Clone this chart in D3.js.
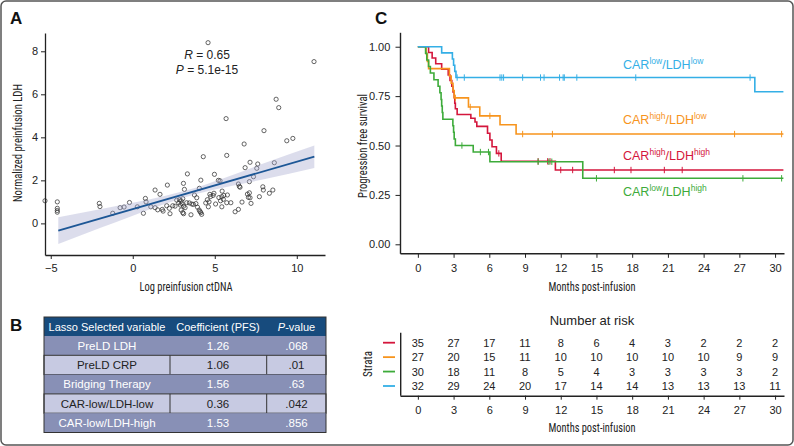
<!DOCTYPE html>
<html><head><meta charset="utf-8">
<script src="https://cdn.jsdelivr.net/npm/d3@7"></script>
<style>
body{margin:0;background:#fff}
svg{display:block}
text{font-family:"Liberation Sans",Arial,Helvetica,sans-serif}
.cond{font-family:"Liberation Sans Narrow","Arial Narrow","Roboto Condensed","Liberation Sans",sans-serif}
</style>
</head><body><svg width="794" height="446"></svg>
<script>
// ---------------- Panel A data ----------------
const scatterX = [-5.35,-4.6,-4.6,-4.6,-4.6,-2.04,-2.0,-1.22,-0.77,-0.53,-0.2,0.28,0.65,0.77,0.81,1.1,
  1.36,1.36,1.52,1.66,1.8,1.85,2.07,2.11,2.27,2.23,2.44,2.58,2.68,2.8,2.85,2.9,2.95,3.0,3.05,3.1,
  2.95,3.05,3.1,3.09,3.15,3.19,3.33,3.29,3.45,3.6,3.7,3.85,3.95,4.05,4.1,4.15,3.55,3.76,3.9,4.15,4.2,4.06,
  4.3,4.45,4.55,4.65,4.75,4.7,4.9,4.95,5.05,5.25,5.35,5.45,5.55,4.61,4.98,5.22,4.59,11.05,
  5.69,8.74,8.9,8.0,6.79,9.39,9.76,5.73,7.15,7.62,6.85,8.63,7.56,7.36,7.11,5.32,6.44,6.5,6.54,
  7.93,7.96,8.54,8.33,6.99,7.11,7.15,7.05,7.72,5.43,5.52,5.77,5.73,5.98,6.66,7.21,5.43,6.24,6.44];
const scatterY = [1.05,1.0,0.7,0.6,0.52,0.93,0.78,0.47,0.73,0.76,0.97,0.77,0.47,1.16,1.0,0.77,
  1.55,0.73,0.63,1.35,0.65,0.57,0.82,1.78,0.45,0.70,0.82,0.80,1.08,0.95,1.1,0.85,1.05,0.92,1.15,0.8,
  0.62,0.5,0.45,1.86,1.58,0.73,2.30,0.96,0.95,0.9,0.88,0.92,0.75,0.62,0.55,0.5,0.40,1.32,1.19,2.01,0.42,1.63,
  3.1,0.95,1.1,1.0,1.25,1.35,1.3,1.4,0.9,1.2,1.05,1.5,1.3,0.77,2.28,2.0,8.4,7.52,
  4.87,5.77,5.38,4.31,3.69,3.84,3.95,3.16,2.84,2.76,2.59,2.82,2.56,2.17,1.94,1.98,1.83,1.72,1.68,
  1.70,1.55,1.55,1.40,1.36,1.42,1.19,1.21,1.24,1.24,1.12,1.32,0.96,0.96,0.99,0.93,0.77,0.54,0.65];
const fitX = [-4.54, 11.07];
const fitY = [-0.34, 3.10];
const ciX    = [-4.54, -2,   0,    2,    4,     6,    8,    11.07];
const ciLow  = [-0.96, -0.22, 0.36, 0.91, 1.385, 1.74, 2.05, 2.58];
const ciHigh = [ 0.28,  0.66, 0.96, 1.29, 1.695, 2.22, 2.79, 3.62];
const scatterXTicks = [-5, 0, 5, 10];
const scatterYTicks = [0, 2, 4, 6, 8];
const statR = "0.65", statP = "5.1e-15";

// ---------------- Panel B data ----------------
const tableHeader = ["Lasso Selected variable", "Coefficient (PFS)", "P-value"];
const tableVars = ["PreLD LDH", "PreLD CRP", "Bridging Therapy", "CAR-low/LDH-low", "CAR-low/LDH-high"];
const tableCoef = ["1.26", "1.06", "1.56", "0.36", "1.53"];
const tablePval = [".068", ".01", ".63", ".042", ".856"];

// ---------------- Panel C data ----------------
const kmGroups = ["highhigh", "highlow", "lowhigh", "lowlow"];
const kmCar = ["high", "high", "low", "low"];
const kmLdh = ["high", "low", "high", "low"];
const kmColors = ["#d4163c", "#f7941d", "#3dab3a", "#34afe6"];
const redSteps = [[0,1],[0.9,0.971],[1.2,0.943],[1.5,0.914],[2.0,0.886],[2.55,0.857],[2.7,0.829],[2.85,0.8],[2.95,0.771],
  [3.05,0.743],[3.1,0.714],[3.15,0.686],[3.3,0.657],[4.45,0.638],[4.8,0.619],[4.95,0.597],[5.85,0.562],[6.05,0.528],
  [6.23,0.494],[6.6,0.46],[7.0,0.42],[11.55,0.376]];
const orangeSteps = [[0,1],[0.7,0.963],[0.8,0.926],[0.9,0.889],[2.65,0.852],[2.8,0.815],[2.95,0.778],[3.05,0.741],
  [4.25,0.695],[5.2,0.65],[6.9,0.605],[8.25,0.558]];
const greenSteps = [[0,1],[0.65,0.967],[0.75,0.933],[0.9,0.9],[1.05,0.867],[1.35,0.833],[1.7,0.8],[1.85,0.767],
  [1.95,0.733],[2.0,0.7],[2.05,0.667],[2.1,0.633],[2.94,0.6],[3.0,0.567],[3.05,0.533],[3.15,0.5],[4.65,0.467],
  [6.05,0.418],[13.85,0.334]];
const blueSteps = [[0,1],[2.0,0.969],[2.9,0.938],[3.0,0.906],[3.1,0.875],[3.2,0.844],[28.3,0.772]];
const kmSteps = [redSteps, orangeSteps, greenSteps, blueSteps];
const kmEnd = [30.7, 30.7, 30.7, 30.7];
const redCensor = [6.8,10.1,10.9,11.1,12.0,13.0,16.5,17.9,20.7,22.2];
const orangeCensor = [3.15,4.4,6.05,8.8,11.3,26.6,30.55];
const greenCensor = [3.7,5.25,5.93,10.1,11.0,11.25,15.0,27.3,30.55];
const blueCensor = [3.3,3.9,6.9,7.05,7.2,8.8,10.3,10.6,11.9,12.2,12.3,13.35,18.3,27.9];
const kmCensor = [redCensor, orangeCensor, greenCensor, blueCensor];
const kmTicksX = [0,3,6,9,12,15,18,21,24,27,30];
const kmTicksY = [0, 0.25, 0.5, 0.75, 1];
const riskRed    = [35,27,17,11,8,6,4,3,2,2,2];
const riskOrange = [27,20,15,11,10,10,10,10,10,9,9];
const riskGreen  = [30,18,11,8,5,4,3,3,3,3,2];
const riskBlue   = [32,29,24,20,17,14,14,13,13,13,11];
const riskRows = [riskRed, riskOrange, riskGreen, riskBlue];

const svg = d3.select("svg");
const ink = "#222";

// condensed axis title helper (no condensed font installed -> squeeze regular face)
function condText(g, txt, len, transform){
  return g.append("text").attr("class","cond").attr("transform",transform)
    .attr("text-anchor","middle").attr("font-size",13).attr("fill",ink)
    .attr("textLength",len).attr("lengthAdjust","spacingAndGlyphs").text(txt);
}

// frame
svg.append("rect").attr("x",1).attr("y",1).attr("width",792).attr("height",444)
  .attr("rx",5).attr("fill","none").attr("stroke","#555").attr("stroke-width",1.5);

// panel letters
[["A",10,24],["B",10,331],["C",375,24]].forEach(([t,x,y])=>{
  svg.append("text").attr("x",x).attr("y",y).attr("font-size",17).attr("font-weight","bold")
    .attr("fill","#111").text(t);
});

// ================= Panel A =================
const xA = d3.scaleLinear().domain([-5.35, 11.72]).range([45, 325]);
const yA = d3.scaleLinear().domain([-1.47, 8.85]).range([255, 33]);
const gA = svg.append("g");

gA.append("g").selectAll("circle").data(scatterX).join("circle")
  .attr("cx",(d)=>xA(d)).attr("cy",(d,i)=>yA(scatterY[i])).attr("r",2.1)
  .attr("fill","none").attr("stroke","#333").attr("stroke-width",0.75);

const ciData = ciX.map((x,i)=>({x, lo:ciLow[i], hi:ciHigh[i]}));
gA.append("path").datum(ciData)
  .attr("d", d3.area().x(d=>xA(d.x)).y0(d=>yA(d.lo)).y1(d=>yA(d.hi)).curve(d3.curveMonotoneX))
  .attr("fill","#a3a6cc").attr("fill-opacity",0.38);
gA.append("path").datum(fitX.map((x,i)=>[x,fitY[i]]))
  .attr("d", d3.line().x(d=>xA(d[0])).y(d=>yA(d[1])))
  .attr("stroke","#1d5796").attr("stroke-width",1.8).attr("fill","none");

const axA_x = gA.append("g").attr("transform","translate(0,255)")
  .call(d3.axisBottom(xA).tickValues(scatterXTicks).tickSize(4).tickSizeOuter(0).tickFormat(d=>d<0?"\u2212"+Math.abs(d):d));
const axA_y = gA.append("g").attr("transform","translate(45,0)")
  .call(d3.axisLeft(yA).tickValues(scatterYTicks).tickSize(4).tickSizeOuter(0));
[axA_x, axA_y].forEach(a=>{
  a.select(".domain").attr("stroke",ink).attr("stroke-width",1.3);
  a.selectAll(".tick line").attr("stroke",ink).attr("stroke-width",1);
  a.selectAll(".tick text").attr("font-size",11).attr("fill",ink).attr("font-family","Liberation Sans, Arial, sans-serif");
});
axA_x.selectAll(".tick text").attr("dy","0.95em");

condText(gA, "Log preinfusion ctDNA", 93, "translate(186,291)");
condText(gA, "Normalized preinfusion LDH", 118, "translate(22,143) rotate(-90)");

const rT = gA.append("text").attr("x",207).attr("y",59).attr("text-anchor","middle").attr("font-size",12).attr("fill",ink);
rT.append("tspan").attr("font-style","italic").text("R");
rT.append("tspan").text(" = " + statR);
const pT = gA.append("text").attr("x",207).attr("y",74).attr("text-anchor","middle").attr("font-size",12).attr("fill",ink);
pT.append("tspan").attr("font-style","italic").text("P");
pT.append("tspan").text(" = " + statP);

// ================= Panel B =================
const colX = [44, 170, 266.7, 326];
const hdrTop = 317, hdrH = 19, rowH = 19.3;
const gB = svg.append("g");
gB.append("rect").attr("x",colX[0]).attr("y",hdrTop).attr("width",colX[3]-colX[0]).attr("height",hdrH).attr("fill","#174b7d");
const hdrCx = [107, 218, 296.5];
tableHeader.forEach((h,i)=>{
  const t = gB.append("text").attr("x",hdrCx[i]).attr("y",hdrTop+hdrH/2+4).attr("text-anchor","middle")
    .attr("font-size",11).attr("fill","#fff");
  if (h.startsWith("P-")) { t.append("tspan").attr("font-style","italic").text("P"); t.append("tspan").text(h.slice(1)); }
  else t.text(h);
});
tableVars.forEach((v,i)=>{
  const y0 = hdrTop + hdrH + i*rowH;
  const dark = i%2===0;
  gB.append("rect").attr("x",colX[0]).attr("y",y0).attr("width",colX[3]-colX[0]).attr("height",rowH)
    .attr("fill", dark ? "#8890b6" : "#c7cae2");
  if (!dark) {
    gB.append("rect").attr("x",colX[0]).attr("y",y0).attr("width",colX[3]-colX[0]).attr("height",rowH)
      .attr("fill","none").attr("stroke","#333").attr("stroke-width",1);
    [colX[1], colX[2]].forEach(x=>gB.append("line").attr("x1",x).attr("x2",x).attr("y1",y0).attr("y2",y0+rowH)
      .attr("stroke","#333").attr("stroke-width",1));
  }
  const vals = [v, tableCoef[i], tablePval[i]];
  vals.forEach((s,j)=>{
    gB.append("text").attr("x",hdrCx[j]).attr("y",y0+rowH/2+4.2).attr("text-anchor","middle")
      .attr("font-size",11.5).attr("fill", dark ? "#fff" : "#222").text(s);
  });
});
gB.append("rect").attr("x",colX[0]).attr("y",hdrTop).attr("width",colX[3]-colX[0])
  .attr("height",hdrH + rowH*tableVars.length).attr("fill","none").attr("stroke","#333").attr("stroke-width",1);

// ================= Panel C =================
const xC = d3.scaleLinear().domain([-1.5, 30.75]).range([400, 784]);
const yC = d3.scaleLinear().domain([-0.0455, 1.073]).range([253.3, 32.3]);
const gC = svg.append("g");

const stepLine = d3.line().x(d=>xC(d[0])).y(d=>yC(d[1])).curve(d3.curveStepAfter);
function survAt(steps, t){ let s = 1; for (const [tt,ss] of steps) { if (tt <= t) s = ss; } return s; }

kmSteps.forEach((steps,i)=>{
  const pts = steps.concat([[kmEnd[i], steps[steps.length-1][1]]]);
  gC.append("path").datum(pts).attr("d",stepLine).attr("fill","none")
    .attr("stroke",kmColors[i]).attr("stroke-width",1.6);
  gC.append("g").selectAll("line").data(kmCensor[i]).join("line")
    .attr("x1",d=>xC(d)).attr("x2",d=>xC(d))
    .attr("y1",d=>yC(survAt(steps,d))-3.2).attr("y2",d=>yC(survAt(steps,d))+3.2)
    .attr("stroke",kmColors[i]).attr("stroke-width",1);
});

const axC_x = gC.append("g").attr("transform","translate(0,253.3)")
  .call(d3.axisBottom(xC).tickValues(kmTicksX).tickSize(4.5).tickSizeOuter(0));
const axC_y = gC.append("g").attr("transform","translate(400,0)")
  .call(d3.axisLeft(yC).tickValues(kmTicksY).tickSize(4.5).tickSizeOuter(0).tickFormat(d3.format(".2f")));
[axC_x, axC_y].forEach(a=>{
  a.select(".domain").attr("stroke",ink).attr("stroke-width",1.4);
  a.selectAll(".tick line").attr("stroke",ink).attr("stroke-width",1);
  a.selectAll(".tick text").attr("font-size",11).attr("fill",ink).attr("font-family","Liberation Sans, Arial, sans-serif");
});
axC_x.selectAll(".tick text").attr("dy","1.05em");
axC_y.selectAll(".tick text").attr("dx","-0.2em");

condText(gC, "Months post-infusion", 87, "translate(592,291)");
condText(gC, "Progression free survival", 104, "translate(367,146) rotate(-90)");

// curve labels
const labelBase = [160, 124, 196, 69];
kmGroups.forEach((g,i)=>{
  const t = gC.append("text").attr("x",623).attr("y",labelBase[i]).attr("font-size",12.5).attr("fill",kmColors[i]);
  t.append("tspan").text("CAR");
  t.append("tspan").attr("font-size",8.5).attr("dy",-5).text(kmCar[i]);
  t.append("tspan").attr("dy",5).text("/LDH");
  t.append("tspan").attr("font-size",8.5).attr("dy",-5).text(kmLdh[i]);
});

// ---------- risk table ----------
const yR = d3.scalePoint().domain(kmGroups).range([342.7, 386]);
const gR = svg.append("g");
gR.append("text").attr("x",592).attr("y",325).attr("text-anchor","middle").attr("font-size",13).attr("fill",ink).text("Number at risk");
riskRows.forEach((row,i)=>{
  gR.append("g").selectAll("text").data(row).join("text")
    .attr("x",(d,j)=>xC(kmTicksX[j])).attr("y",yR(kmGroups[i])+4).attr("text-anchor","middle")
    .attr("font-size",11).attr("fill",ink).text(d=>d);
  gR.append("line").attr("x1",383).attr("x2",395).attr("y1",yR(kmGroups[i])).attr("y2",yR(kmGroups[i]))
    .attr("stroke",kmColors[i]).attr("stroke-width",1.8);
});
const axR = gR.append("g").attr("transform","translate(0,395.7)")
  .call(d3.axisBottom(xC).tickValues(kmTicksX).tickSize(4).tickSizeOuter(0));
axR.select(".domain").attr("stroke",ink).attr("stroke-width",1.4);
axR.selectAll(".tick line").attr("stroke",ink);
axR.selectAll(".tick text").attr("font-size",11).attr("fill",ink).attr("dy","1.05em").attr("font-family","Liberation Sans, Arial, sans-serif");
gR.append("line").attr("x1",400.7).attr("x2",400.7).attr("y1",332.7).attr("y2",395.7).attr("stroke",ink).attr("stroke-width",1.4);
condText(gR, "Months post-infusion", 87, "translate(592,432)");
condText(gR, "Strata", 26, "translate(372,364) rotate(-90)");
</script></body></html>
